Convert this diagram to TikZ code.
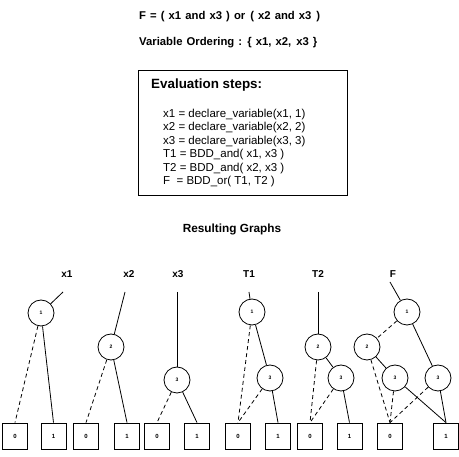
\documentclass[tikz,border=0pt]{standalone}
\usepackage{fontspec}
\setmainfont{Liberation Sans}
\newfontfamily\headfont[WordSpace=1.3]{Liberation Sans}
\begin{document}
\begin{tikzpicture}[x=1pt,y=-1pt,
  bdd/.style={circle,draw,line width=0.8pt,minimum size=26pt,inner sep=0pt,font=\fontsize{5}{6}\selectfont\bfseries},
  term/.style={rectangle,draw,line width=0.8pt,minimum width=25pt,minimum height=26pt,inner sep=0pt,font=\fontsize{6}{7}\selectfont\bfseries},
  hi/.style={line width=0.8pt},
  lo/.style={line width=0.8pt,dash pattern=on 4pt off 3pt},
  glabel/.style={font=\fontsize{10}{12}\selectfont\bfseries},
  head/.style={anchor=west,inner sep=0pt,font=\headfont\fontsize{11.3}{13}\selectfont\bfseries},
  code/.style={anchor=base west,inner sep=0pt,font=\fontsize{11.5}{13.6}\selectfont}]
\useasboundingbox (0,0) rectangle (459,457);

% header texts
\node[head] (formula) at (139,17) {F = ( x1 and x3 ) or\hspace{5pt}( x2 and\hspace{4pt}x3\hspace{5pt})};
\node[head] (order) at (139,43) {Variable Ordering : \{ x1, x2,\hspace{5pt}x3 \}};

% evaluation box
\node[draw,line width=0.8pt,minimum width=209pt,minimum height=125pt,anchor=north west] (evalbox) at (138,70) {};
\node[anchor=west,inner sep=0pt,font=\fontsize{13.4}{15}\selectfont\bfseries] (evaltitle) at (151,85) {Evaluation steps:};
\node[code] (s1) at (163,117.3) {x1 = declare\_variable(x1, 1)};
\node[code] (s2) at (163,130.8) {x2 = declare\_variable(x2, 2)};
\node[code] (s3) at (163,144.3) {x3 = declare\_variable(x3, 3)};
\node[code] (s4) at (163,157.8) {T1 = BDD\_and( x1, x3 )};
\node[code] (s5) at (163,171.3) {T2 = BDD\_and( x2, x3 )};
\node[code] (s6) at (163,184.8) {F \ = BDD\_or( T1, T2 )};

\node[font=\fontsize{11.8}{13}\selectfont\bfseries] (result) at (232,229) {Resulting Graphs};

% ---- graph x1
\node[glabel] (lx1) at (67,274) {x1};
\coordinate (ix1) at (63,292);
\node[bdd] (a1) at (41,313) {1};
\node[term] (a0t) at (15,436) {0};
\node[term] (a1t) at (53.5,436) {1};
\draw[hi] (ix1) -- (a1);
\draw[lo] (a1) -- (a0t.north);
\draw[hi] (a1) -- (a1t.north);

% ---- graph x2
\node[glabel] (lx2) at (129,274) {x2};
\coordinate (ix2) at (125,292);
\node[bdd] (b2) at (111,347) {2};
\node[term] (b0t) at (86,436) {0};
\node[term] (b1t) at (127,436) {1};
\draw[hi] (ix2) -- (b2);
\draw[lo] (b2) -- (b0t.north);
\draw[hi] (b2) -- (b1t.north);

% ---- graph x3
\node[glabel] (lx3) at (178,274) {x3};
\coordinate (ix3) at (177,292);
\node[bdd] (c3) at (177,380) {3};
\node[term] (c0t) at (157,436) {0};
\node[term] (c1t) at (197,436) {1};
\draw[hi] (ix3) -- (c3);
\draw[lo] (c3) -- (c0t.north);
\draw[hi] (c3) -- (c1t.north);

% ---- graph T1
\node[glabel] (lt1) at (249,274) {T1};
\coordinate (it1) at (249,292);
\node[bdd] (d1) at (252,312) {1};
\node[bdd] (d3) at (270,378) {3};
\node[term] (d0t) at (238,436) {0};
\node[term] (d1t) at (278,436) {1};
\draw[hi] (it1) -- (d1);
\draw[lo] (d1) -- (d0t.north);
\draw[hi] (d1) -- (d3);
\draw[lo] (d3) -- (d0t.north);
\draw[hi] (d3) -- (d1t.north);

% ---- graph T2
\node[glabel] (lt2) at (318,274) {T2};
\coordinate (it2) at (318,292);
\node[bdd] (e2) at (318,347) {2};
\node[bdd] (e3) at (341,378) {3};
\node[term] (e0t) at (310,436) {0};
\node[term] (e1t) at (349.5,436) {1};
\draw[hi] (it2) -- (e2);
\draw[lo] (e2) -- (e0t.north);
\draw[hi] (e2) -- (e3);
\draw[lo] (e3) -- (e0t.north);
\draw[hi] (e3) -- (e1t.north);

% ---- graph F
\node[glabel] (lf) at (393,274) {F};
\coordinate (if) at (390,282);
\node[bdd] (f1) at (407,312) {1};
\node[bdd] (f2) at (367,347) {2};
\node[bdd] (f3a) at (395,378) {3};
\node[bdd] (f3b) at (438,378) {3};
\node[term] (f0t) at (390,436) {0};
\node[term] (f1t) at (446,436) {1};
\draw[hi] (if) -- (f1);
\draw[lo] (f1) -- (f2);
\draw[hi] (f1) -- (f3b);
\draw[hi] (f2) -- (f3a);
\draw[lo] (f2) -- (f0t.north);
\draw[lo] (f3a) -- (f0t.north);
\draw[hi] (f3a) -- (f1t.north);
\draw[lo] (f3b) -- (f0t.north);
\draw[hi] (f3b) -- (f1t.north);
\end{tikzpicture}
\end{document}
